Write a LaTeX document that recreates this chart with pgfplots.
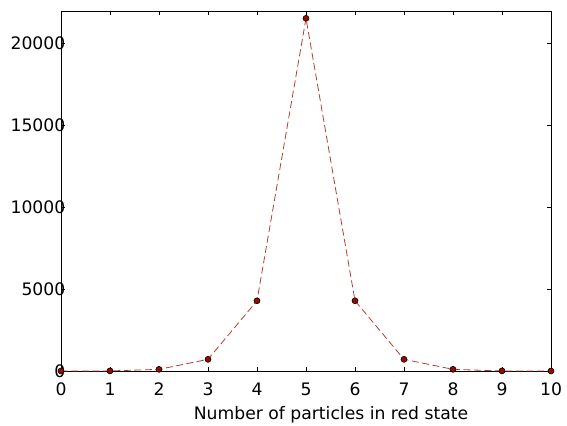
\documentclass[border=0pt]{standalone}
\usepackage{pgfplots}
\pgfplotsset{compat=1.18}
\usepackage{fontspec}
\setmainfont{DejaVu Sans}
\definecolor{linered}{RGB}{180,60,50}
\definecolor{markred}{RGB}{150,10,0}
\begin{document}
\begin{tikzpicture}
\useasboundingbox (-61bp,-55bp) rectangle (506bp,371bp);
\begin{axis}[
  at={(0,0)}, anchor=south west,
  scale only axis, width=490bp, height=359.7bp,
  xmin=0, xmax=10, ymin=0, ymax=21956,
  xtick={0,1,...,10},
  ytick={0,5000,10000,15000,20000},
  tick align=inside,
  major tick length=4bp,
  axis line style={line width=1pt},
  tick style={line width=0.8pt, black},
  scaled y ticks=false,
  /pgf/number format/assume math mode=true,
  /pgf/number format/1000 sep={},
  xticklabel style={inner sep=0pt, anchor=north, yshift=-12bp, font=\fontsize{17.2bp}{20bp}\selectfont},
  yticklabel style={inner sep=0pt, anchor=east, xshift=4.5bp, font=\fontsize{17.2bp}{20bp}\selectfont},
  xlabel={Number of particles in red state},
  xlabel style={at={(axis description cs:0.5,0)}, anchor=base, yshift=-48bp, xshift=25bp, inner sep=0pt, font=\fontsize{17.2bp}{20bp}\selectfont},
  clip=false,
]
\addplot[color=linered, line width=0.8pt, dash pattern=on 7bp off 3.5bp,
  mark=*, mark size=3bp, mark options={solid, fill=markred, draw=black, line width=0.6pt}]
  coordinates {
  (0,0) (1,5) (2,100) (3,713) (4,4287) (5,21525) (6,4287) (7,713) (8,100) (9,5) (10,0)
  };
\end{axis}
\end{tikzpicture}
\end{document}
